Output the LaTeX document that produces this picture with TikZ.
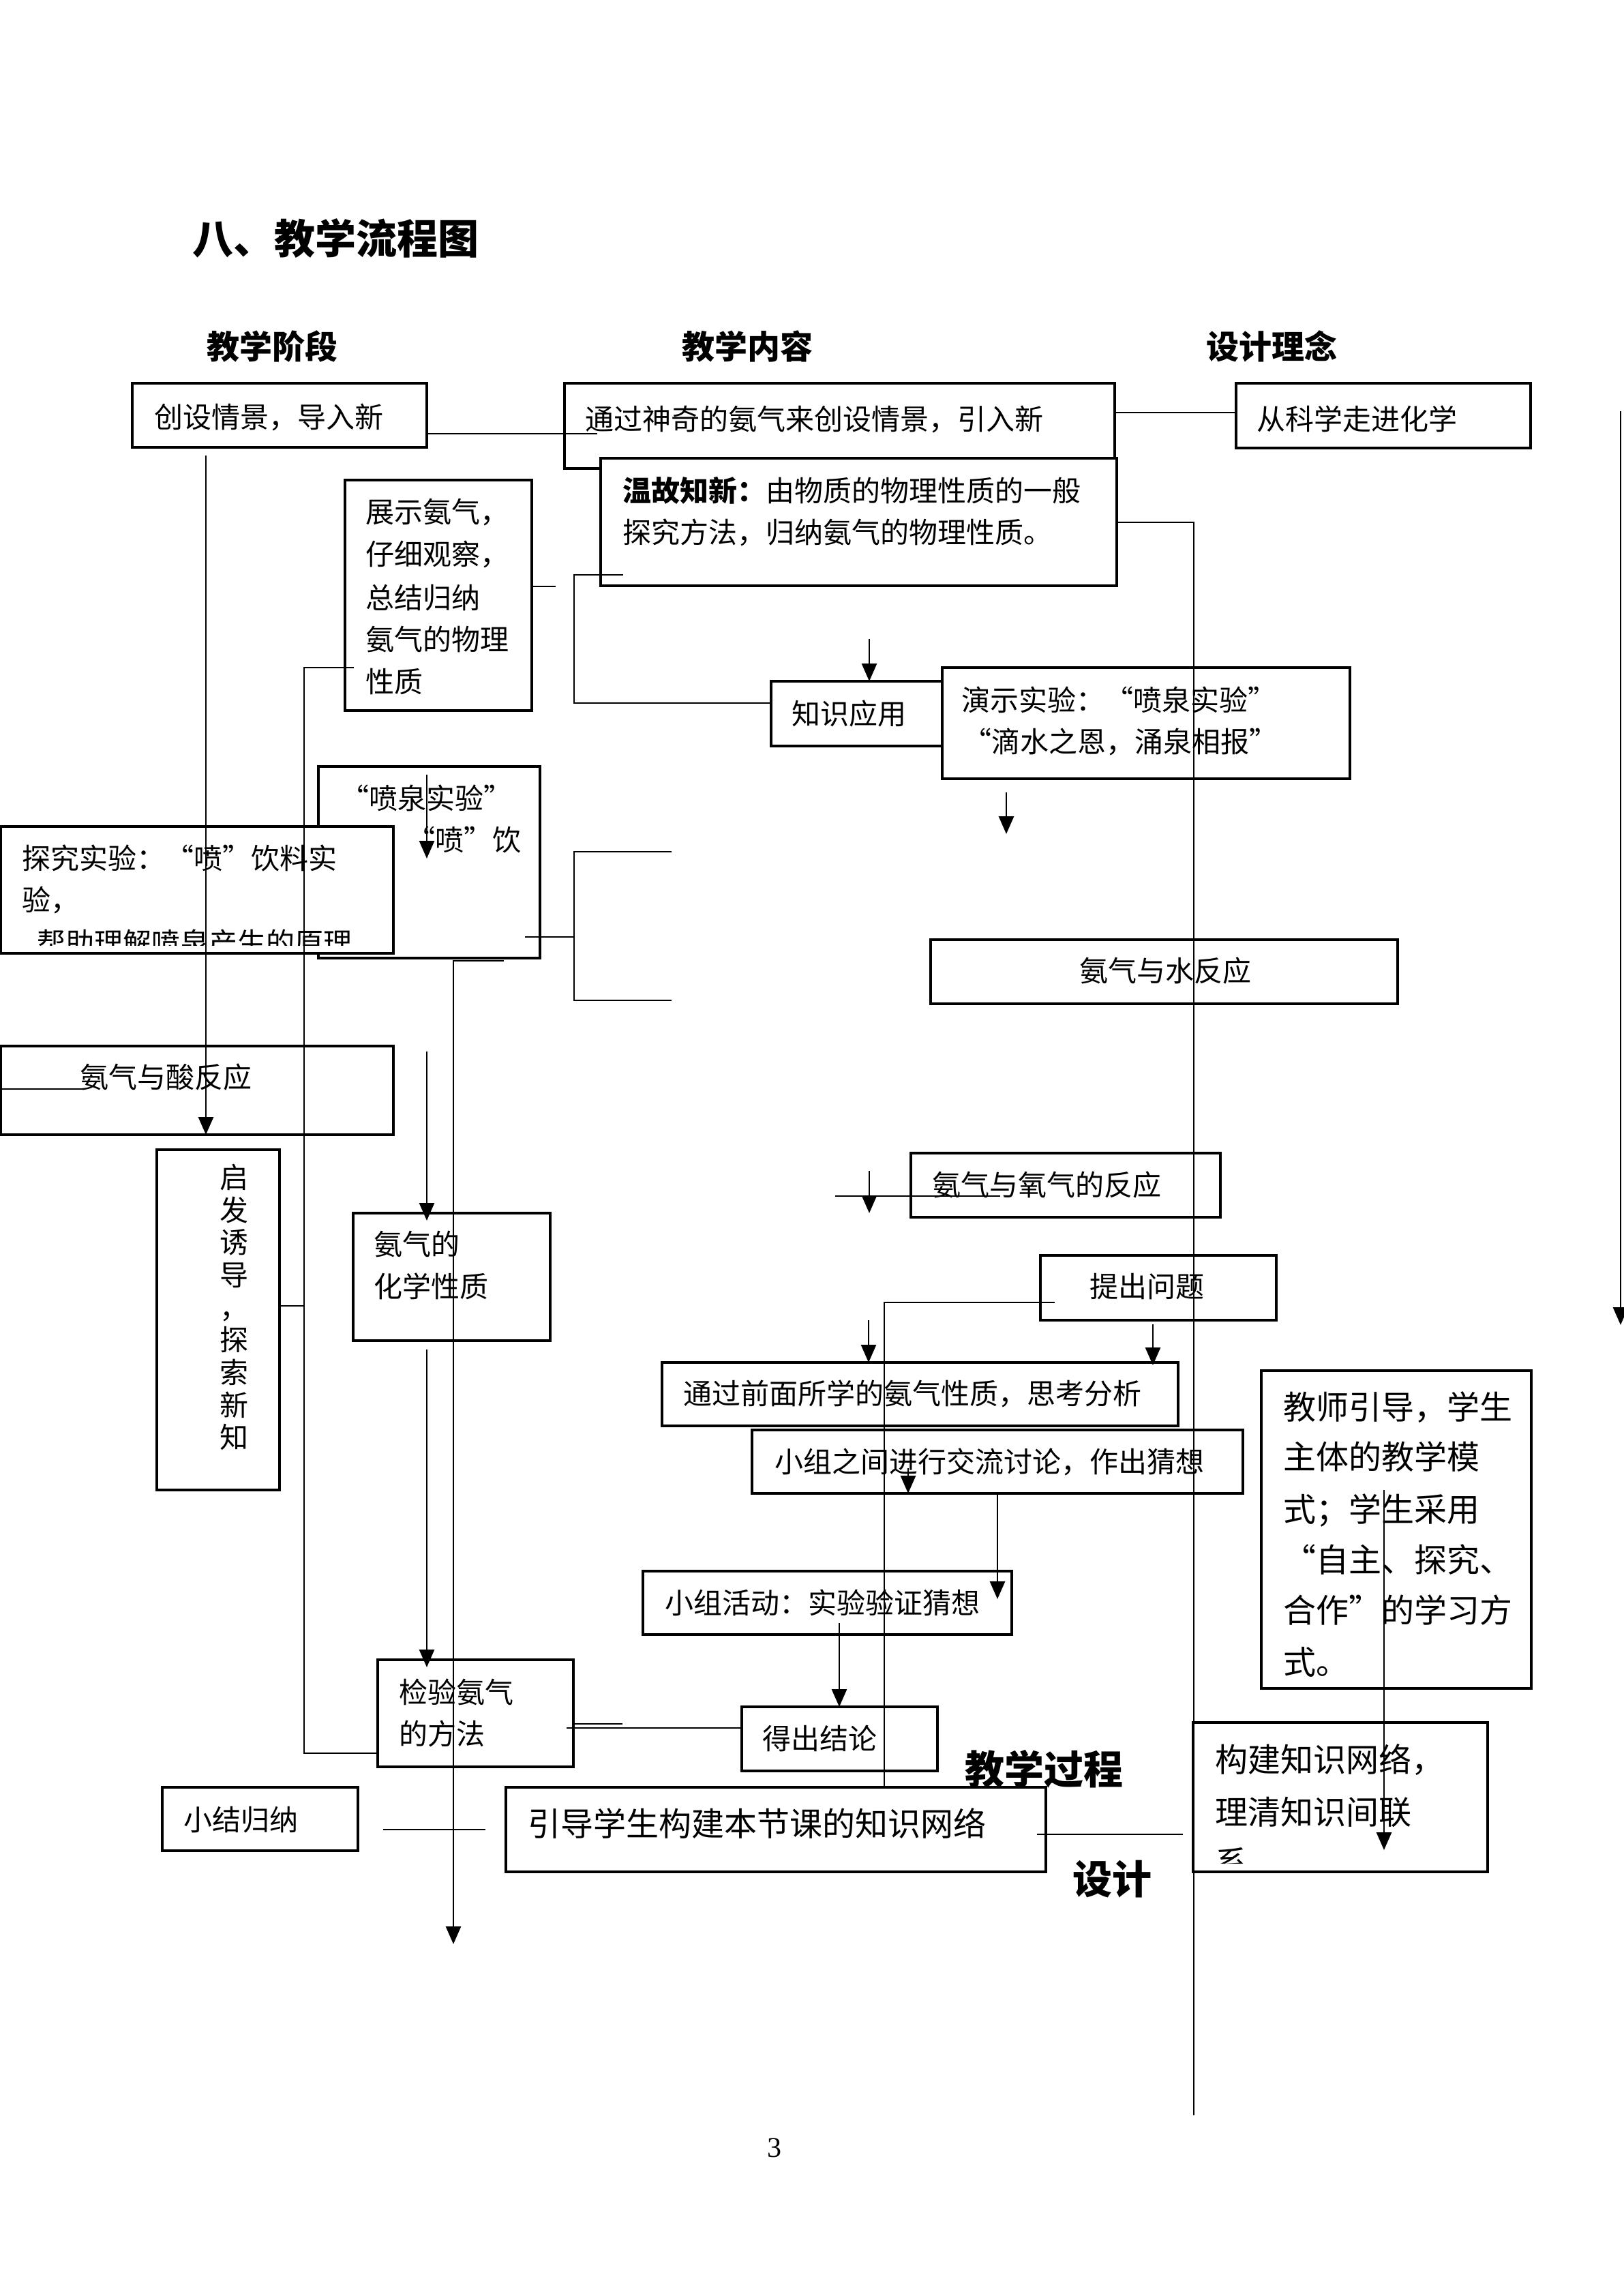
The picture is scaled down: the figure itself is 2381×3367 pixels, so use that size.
\documentclass[tikz,border=0pt]{standalone}
\usepackage{fontspec}
\setmainfont{Noto Sans CJK SC}[RawFeature={+fwid}]
\newfontfamily\numfont{Liberation Serif}
\usetikzlibrary{arrows.meta}
\newcommand\fsA{\fontsize{10.5pt}{12pt}\selectfont}
\newcommand\fsB{\fontsize{12pt}{14pt}\selectfont}
\newcommand\fsC{\fontsize{14.5pt}{17pt}\selectfont}
\newcommand\fsD{\fontsize{15pt}{18pt}\selectfont}
\begin{document}
\begin{tikzpicture}[x=0.25pt,y=-0.25pt,
  box/.style={draw, line width=0.9pt, fill=white, inner sep=0pt, outer sep=0pt, anchor=north west},
  ln/.style={line width=0.7pt},
  arr/.style={ln, -{Triangle[length=6.5pt,width=5.5pt]}},
  ta/.style={anchor=west, inner sep=0pt, font=\fsA, text height=9.24pt, text depth=1.26pt},
  tb/.style={anchor=west, inner sep=0pt, font=\fsB, text height=10.56pt, text depth=1.44pt},
  th/.style={anchor=west, inner sep=0pt, font=\fsB\bfseries, text height=10.56pt, text depth=1.44pt},
  tbig/.style={anchor=west, inner sep=0pt, font=\fsC\bfseries, text height=12.76pt, text depth=1.74pt},
  ttl/.style={anchor=west, inner sep=0pt, font=\fsD\bfseries, text height=13.2pt, text depth=1.8pt}]
\fill[white] (0,0) rectangle (2381,3367);
\useasboundingbox (0,0) rectangle (2381,3367);

% title and headers
\node[ttl] (title) at (282,350) {八、教学流程图};
\node[th] (h1) at (303,508) {教学阶段};
\node[th] (h2) at (1000,508) {教学内容};
\node[th] (h3) at (1769,508) {设计理念};

% boxes
\node[box, minimum width=108pt, minimum height=23.5pt] (cs) at (194,562) {};
\node[box, minimum width=201.75pt, minimum height=31.25pt] (tg) at (828,562) {};
\node[box, minimum width=108pt, minimum height=23.75pt] (kx) at (1813,562) {};
\node[box, minimum width=189.25pt, minimum height=46.75pt] (wg) at (881,672) {};
\node[box, minimum width=68.5pt, minimum height=84.5pt] (zs) at (506,704) {};
\node[box, minimum width=62.75pt, minimum height=23.75pt] (zy) at (1131,999) {};
\node[box, minimum width=149.5pt, minimum height=40.75pt] (ys) at (1382,979) {};
\node[box, minimum width=81.25pt, minimum height=70.25pt] (pq) at (467,1124) {};
\node[box, minimum width=144pt, minimum height=46.5pt] (tj) at (1,1212) {};
\node[box, minimum width=171.25pt, minimum height=23.5pt] (sr) at (1365,1378) {};
\node[box, minimum width=144pt, minimum height=32.5pt] (ss) at (1,1534) {};
\node[box, minimum width=45pt, minimum height=124.75pt] (qf) at (230,1686) {};
\node[box, minimum width=72.25pt, minimum height=46.75pt] (hx) at (518,1779) {};
\node[box, minimum width=113.5pt, minimum height=23.5pt] (yq) at (1336,1691) {};
\node[box, minimum width=86.5pt, minimum height=23.75pt] (tw) at (1526,1841) {};
\node[box, minimum width=189.25pt, minimum height=23.25pt] (qm) at (971,1998) {};
\node[box, minimum width=180pt, minimum height=23.25pt] (zj) at (1103,2097) {};
\node[box, minimum width=135.25pt, minimum height=23.25pt] (hd) at (943,2304) {};
\node[box, minimum width=99pt, minimum height=116.5pt] (js) at (1850,2010) {};
\node[box, minimum width=71.75pt, minimum height=39.25pt] (jy) at (554,2434) {};
\node[box, minimum width=71.75pt, minimum height=23.5pt] (dc) at (1088,2503) {};
\node[box, minimum width=71.75pt, minimum height=23.25pt] (xj) at (238,2621) {};
\node[box, minimum width=198pt, minimum height=31pt] (yd) at (742,2621) {};
\node[box, minimum width=108pt, minimum height=54.75pt] (gj) at (1750,2526) {};

% texts
\node[ta] (t1) at (226,612) {创设情景，导入新};
\node[ta] (t2) at (858,615) {通过神奇的氨气来创设情景，引入新};
\node[ta] (t3) at (1843,615) {从科学走进化学};
\node[ta] (t4) at (913,720) {{\bfseries 温故知新：}由物质的物理性质的一般};
\node[ta] (t5) at (913,781) {探究方法，归纳氨气的物理性质。};
\node[ta] (t6) at (536,751) {展示氨气，};
\node[ta] (t7) at (536,813) {仔细观察，};
\node[ta] (t8) at (536,877) {总结归纳};
\node[ta] (t9) at (536,938) {氨气的物理};
\node[ta] (t10) at (536,1000) {性质};
\node[ta] (t11) at (1161,1047) {知识应用};
\node[ta] (t12) at (1410,1027) {演示实验：“喷泉实验”};
\node[ta] (t13) at (1412,1088) {“滴水之恩，涌泉相报”};
\node[ta] (t14) at (499,1171) {“喷泉实验”};
\node[ta] (t15) at (596,1232) {“喷”饮};
\node[ta] (t16) at (32,1259) {探究实验：“喷”饮料实};
\node[ta] (t17) at (32,1320) {验，};
\begin{scope}
\clip (1,1212) rectangle (577,1386);
\node[ta] (t18) at (54,1383) {帮助理解喷泉产生的原理};
\end{scope}
\node[ta, anchor=center] (t19) at (1709,1424) {氨气与水反应};
\node[ta] (t20) at (117,1580) {氨气与酸反应};
\node[font=\fontsize{10.5pt}{11.92pt}\selectfont, align=center, inner sep=0pt] (t21) at (343,1917) {启\\发\\诱\\导\\，\\探\\索\\新\\知};
\node[ta] (t22) at (548,1825) {氨气的};
\node[ta] (t23) at (548,1887) {化学性质};
\node[ta] (t24) at (1367,1738) {氨气与氧气的反应};
\node[ta] (t25) at (1598,1887) {提出问题};
\node[ta] (t26) at (1002,2044) {通过前面所学的氨气性质，思考分析};
\node[ta] (t27) at (1136,2144) {小组之间进行交流讨论，作出猜想};
\node[ta] (t28) at (975,2351) {小组活动：实验验证猜想};
\node[tb] (t29) at (1882,2063) {教师引导，学生};
\node[tb] (t30) at (1882,2136) {主体的教学模};
\node[tb] (t31) at (1882,2213) {式；学生采用};
\node[tb] (t32) at (1882,2287) {“自主、探究、};
\node[tb] (t33) at (1882,2361) {合作”的学习方};
\node[tb] (t34) at (1882,2437) {式。};
\node[ta] (t35) at (585,2482) {检验氨气};
\node[ta] (t36) at (585,2543) {的方法};
\node[ta] (t37) at (1118,2549) {得出结论};
\node[tbig] (t38) at (1415,2594) {教学过程};
\node[tbig] (t39) at (1573,2755) {设计};
\node[ta] (t40) at (269,2669) {小结归纳};
\node[tb] (t41) at (774,2674) {引导学生构建本节课的知识网络};
\node[tb] (t42) at (1782,2580) {构建知识网络，};
\node[tb] (t43) at (1782,2657) {理清知识间联};
\begin{scope}
\clip (1750,2526) rectangle (2182,2732);
\node[tb] (t44) at (1782,2731) {系};
\end{scope}
\node[font=\numfont\fontsize{10.5pt}{12pt}\selectfont, inner sep=0pt] (pg) at (1136,3150) {3};

% connectors
\coordinate (p1) at (876,636);
\draw[ln] (cs.east |- p1) -- (p1);
\coordinate (p3) at (0,605);
\draw[ln] (tg.east |- p3) -- (kx.west |- p3);
\coordinate (p4) at (815,860);
\draw[ln] (zs.east |- p4) -- (p4);
\coordinate (p5a) at (914,843);
\coordinate (p5b) at (842,843);
\coordinate (p5c) at (842,1031);
\draw[ln] (p5a) -- (p5b) -- (p5c) -- (zy.west |- p5c);
\coordinate (p6a) at (1751,766);
\coordinate (p6b) at (1751,3102);
\draw[ln] (wg.east |- p6a) -- (p6a) -- (p6b);
\coordinate (p7) at (1275,937);
\draw[arr] (p7) -- (p7 |- zy.north);
\coordinate (p8) at (302,668);
\draw[arr] (p8) -- (p8 |- ss.south);
\coordinate (p9a) at (519,979);
\coordinate (p9b) at (446,979);
\coordinate (p9c) at (446,2571);
\draw[ln] (p9a) -- (p9b) -- (p9c) -- (jy.west |- p9c);
\coordinate (p10) at (446,1915);
\draw[ln] (qf.east |- p10) -- (p10);
\coordinate (p11a) at (626,1136);
\coordinate (p11b) at (626,1259);
\draw[arr] (p11a) -- (p11b);
\coordinate (p12a) at (770,1374);
\coordinate (p12b) at (842,1374);
\draw[ln] (p12a) -- (p12b);
\coordinate (p12c) at (985,1249);
\coordinate (p12d) at (842,1249);
\coordinate (p12e) at (842,1467);
\coordinate (p12f) at (985,1467);
\draw[ln] (p12c) -- (p12d) -- (p12e) -- (p12f);
\coordinate (p13a) at (739,1409);
\coordinate (p13b) at (665,1409);
\coordinate (p13c) at (665,2851);
\draw[arr] (p13a) -- (p13b) -- (p13c);
\coordinate (p14) at (121,1597);
\draw[ln] (ss.west |- p14) -- (p14);
\coordinate (p15) at (626,1542);
\draw[arr, shorten >=-2.75pt] (p15) -- (p15 |- hx.north);
\coordinate (p16) at (626,1979);
\draw[arr, shorten >=-2.75pt] (p16) -- (p16 |- jy.north);
\coordinate (p17a) at (1476,1162);
\coordinate (p17b) at (1476,1223);
\draw[arr] (p17a) -- (p17b);
\coordinate (p18a) at (1275,1717);
\coordinate (p18b) at (1275,1779);
\draw[arr] (p18a) -- (p18b);
\coordinate (p18c) at (1225,1754);
\coordinate (p18d) at (1467,1754);
\draw[ln] (p18c) -- (p18d);
\coordinate (p19a) at (1547,1910);
\coordinate (p19b) at (1297,1910);
\draw[ln] (p19a) -- (p19b) -- (p19b |- yd.north);
\coordinate (p20) at (1274,1936);
\draw[arr] (p20) -- (p20 |- qm.north);
\coordinate (p21) at (1691,1942);
\draw[arr, shorten >=-1pt] (p21) -- (p21 |- qm.north);
\coordinate (p22) at (1332,2153);
\draw[arr] (p22) -- (p22 |- zj.south);
\coordinate (p23) at (1463,2345);
\draw[arr] (p23 |- zj.south) -- (p23);
\coordinate (p24) at (1231,2380);
\draw[arr] (p24) -- (p24 |- dc.north);
\coordinate (p25) at (913,2528);
\draw[ln] (jy.east |- p25) -- (p25);
\coordinate (p26) at (831,2534);
\draw[ln] (p26) -- (dc.west |- p26);
\coordinate (p27a) at (562,2683);
\coordinate (p27b) at (712,2683);
\draw[ln] (p27a) -- (p27b);
\coordinate (p28a) at (1521,2690);
\coordinate (p28b) at (1735,2690);
\draw[ln] (p28a) -- (p28b);
\coordinate (p29a) at (2030,2185);
\coordinate (p29b) at (2030,2713);
\draw[arr] (p29a) -- (p29b);
\coordinate (p30a) at (2377,603);
\coordinate (p30b) at (2377,1943);
\draw[arr] (p30a) -- (p30b);
\end{tikzpicture}
\end{document}
